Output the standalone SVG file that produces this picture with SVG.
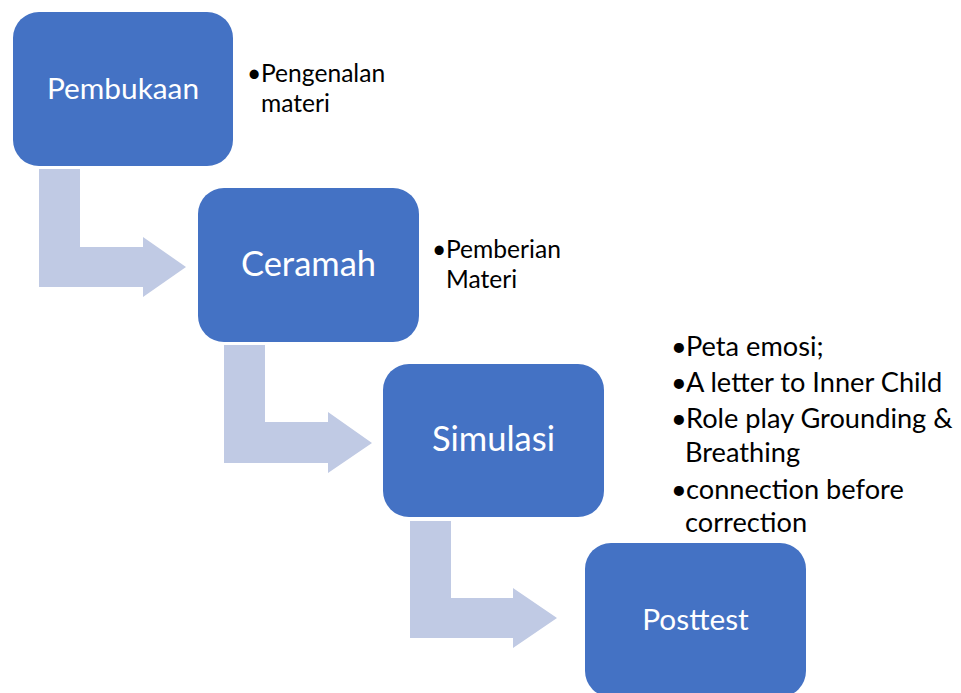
<svg xmlns="http://www.w3.org/2000/svg" width="961" height="693" viewBox="0 0 961 693">
<style>
.box{fill:#4472C4;}
.arr{fill:#C0CAE4;}
.lbl{font-family:Lato,"Open Sans","Liberation Sans",sans-serif;fill:#FFFFFF;text-anchor:middle;}
.s1{font-size:29.8px;}
.s2{font-size:34.5px;}
.b1{font-family:Lato,"Open Sans","Liberation Sans",sans-serif;font-size:24.6px;fill:#000000;}
.b2{font-family:Lato,"Open Sans","Liberation Sans",sans-serif;font-size:27.2px;fill:#000000;}
</style>
<rect width="961" height="693" fill="#FFFFFF"/>
<g id="connectors">
<polygon class="arr" points="39,169 80,169 80,247 143,247 143,237 186,267 143,297 143,287 39,287"/>
<polygon class="arr" points="224,345 265,345 265,422 328,422 328,412 372,443 328,473 328,463 224,463"/>
<polygon class="arr" points="410,521 451,521 451,598 513,598 513,588 557,618 513,648 513,638 410,638"/>
</g>
<g id="node-pembukaan">
<rect class="box" x="13" y="12" width="220" height="154" rx="26"/>
<text class="lbl s1" x="123" y="99">Pembukaan</text>
</g>
<g id="notes-pembukaan">
<text class="b1" x="247" y="82">•</text>
<text class="b1" x="261" y="82">Pengenalan</text>
<text class="b1" x="261" y="112">materi</text>
</g>
<g id="node-ceramah">
<rect class="box" x="198" y="188" width="221" height="154" rx="26"/>
<text class="lbl s2" x="308.5" y="276">Ceramah</text>
</g>
<g id="notes-ceramah">
<text class="b1" x="432" y="258">•</text>
<text class="b1" x="446" y="258">Pemberian</text>
<text class="b1" x="446" y="288">Materi</text>
</g>
<g id="node-simulasi">
<rect class="box" x="383" y="364" width="221" height="153" rx="26"/>
<text class="lbl s2" x="493.5" y="451">Simulasi</text>
</g>
<g id="notes-simulasi">
<text class="b2" x="671" y="356">•</text>
<text class="b2" x="686" y="356">Peta emosi;</text>
<text class="b2" x="671" y="392">•</text>
<text class="b2" x="686" y="392">A letter to Inner Child</text>
<text class="b2" x="671" y="428">•</text>
<text class="b2" x="686" y="428">Role play Grounding &amp;</text>
<text class="b2" x="685" y="462">Breathing</text>
<text class="b2" x="671" y="499">•</text>
<text class="b2" x="686" y="499">connection before</text>
<text class="b2" x="685" y="532">correction</text>
</g>
<g id="node-posttest">
<rect class="box" x="585" y="543" width="221" height="154" rx="26"/>
<text class="lbl s1" x="695.5" y="630">Posttest</text>
</g>
</svg>
